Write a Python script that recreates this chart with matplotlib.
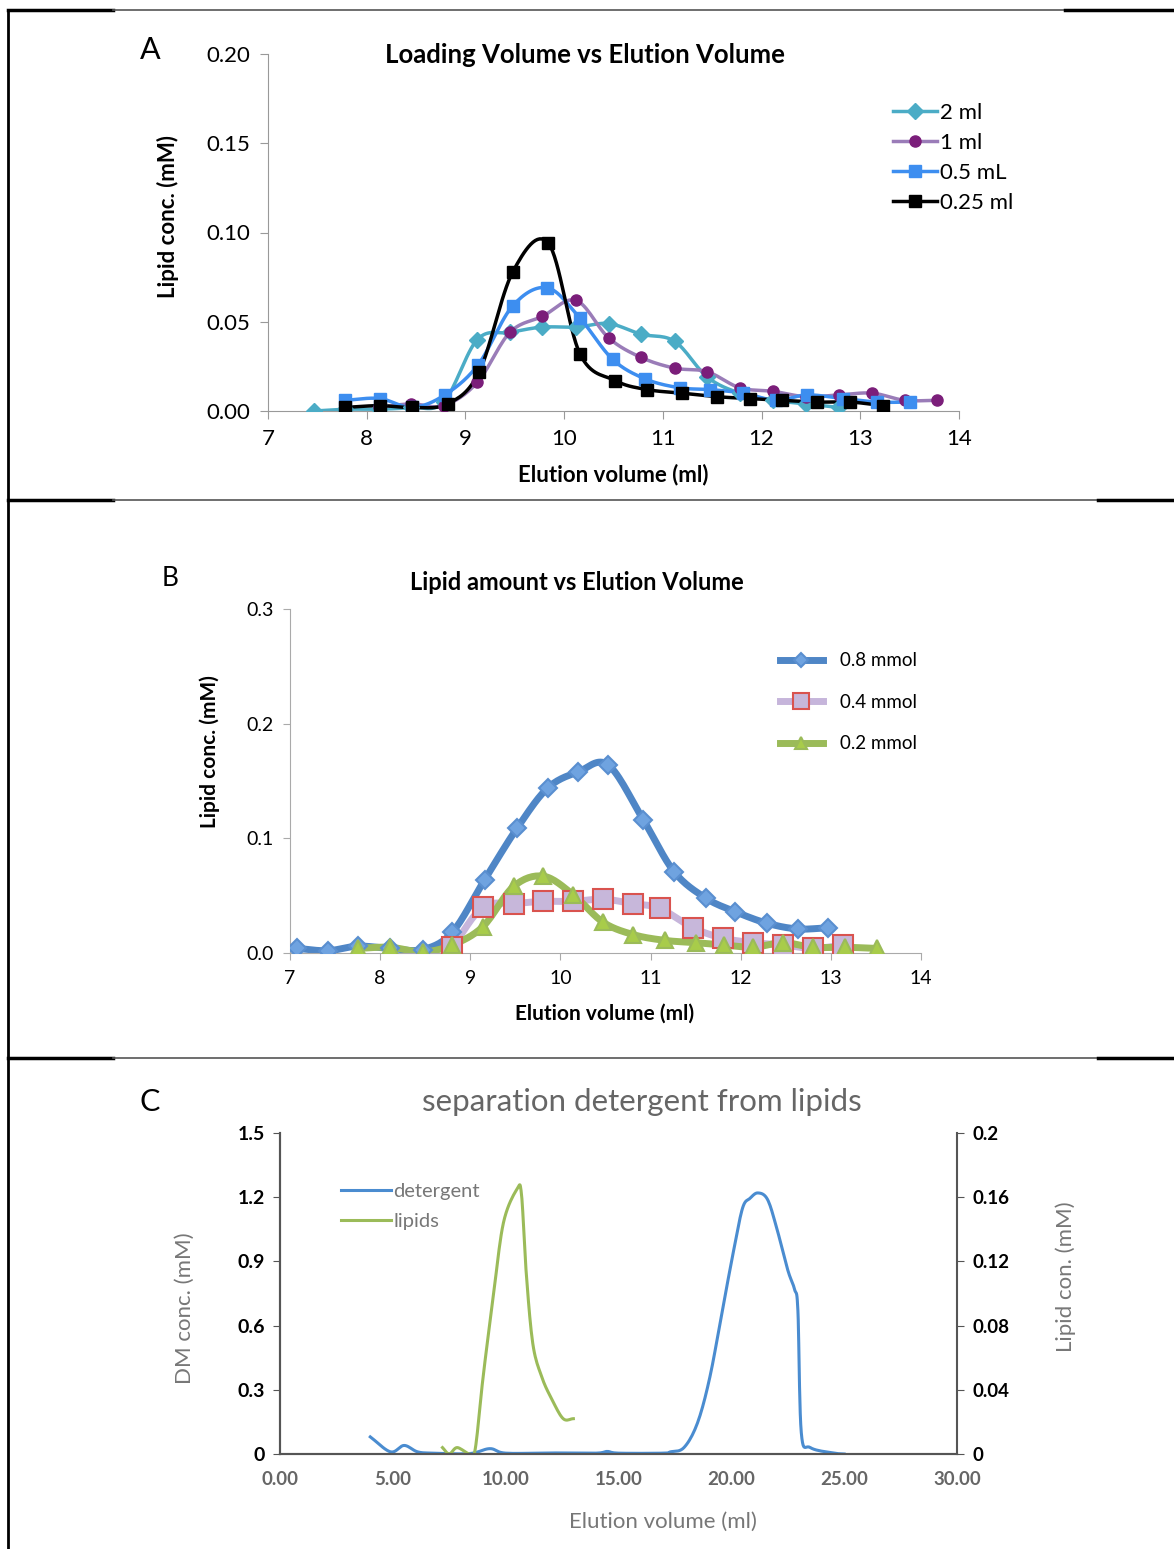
import numpy as np
import matplotlib
matplotlib.use('Agg')
from matplotlib import pyplot as plt
from matplotlib.lines import Line2D

# ---- panel A data: loading volume vs elution volume ----
a_2ml_x = [7.47, 7.78, 8.12, 8.45, 8.78, 9.12, 9.45, 9.78, 10.12, 10.45, 10.78, 11.12, 11.45, 11.78, 12.12, 12.45, 12.78]
a_2ml_y = [0.000, 0.001, 0.001, 0.002, 0.005, 0.040, 0.044, 0.047, 0.047, 0.049, 0.043, 0.039, 0.019, 0.010, 0.006, 0.004, 0.002]
a_1ml_x = [8.12, 8.45, 8.78, 9.12, 9.45, 9.78, 10.12, 10.45, 10.78, 11.12, 11.45, 11.78, 12.12, 12.45, 12.78, 13.12, 13.45, 13.78]
a_1ml_y = [0.002, 0.004, 0.003, 0.016, 0.044, 0.053, 0.062, 0.041, 0.030, 0.024, 0.022, 0.013, 0.011, 0.008, 0.009, 0.010, 0.006, 0.006]
a_05_x = [7.78, 8.13, 8.46, 8.79, 9.13, 9.48, 9.83, 10.16, 10.49, 10.82, 11.17, 11.48, 11.81, 12.15, 12.46, 12.82, 13.17, 13.50]
a_05_y = [0.006, 0.007, 0.002, 0.009, 0.026, 0.059, 0.069, 0.052, 0.029, 0.018, 0.013, 0.012, 0.010, 0.006, 0.009, 0.007, 0.005, 0.005]
a_025_x = [7.78, 8.13, 8.46, 8.82, 9.14, 9.48, 9.84, 10.16, 10.52, 10.84, 11.19, 11.55, 11.88, 12.21, 12.56, 12.90, 13.23]
a_025_y = [0.002, 0.003, 0.002, 0.004, 0.022, 0.078, 0.094, 0.032, 0.017, 0.012, 0.010, 0.008, 0.007, 0.006, 0.005, 0.005, 0.003]

# ---- panel B data: lipid amount vs elution volume ----
b_08_x = [7.08, 7.42, 7.75, 8.11, 8.47, 8.80, 9.16, 9.52, 9.86, 10.20, 10.53, 10.92, 11.26, 11.61, 11.94, 12.29, 12.63, 12.97]
b_08_y = [0.004, 0.002, 0.006, 0.004, 0.003, 0.018, 0.064, 0.109, 0.144, 0.158, 0.164, 0.116, 0.071, 0.048, 0.036, 0.026, 0.021, 0.022]
b_04_x = [8.80, 9.14, 9.48, 9.81, 10.14, 10.47, 10.80, 11.10, 11.47, 11.80, 12.14, 12.47, 12.80, 13.14]
b_04_y = [0.005, 0.040, 0.043, 0.045, 0.045, 0.047, 0.043, 0.039, 0.022, 0.013, 0.009, 0.007, 0.004, 0.007]
b_02_x = [7.75, 8.11, 8.47, 8.80, 9.14, 9.48, 9.81, 10.14, 10.47, 10.81, 11.16, 11.50, 11.81, 12.14, 12.47, 12.80, 13.16, 13.51]
b_02_y = [0.004, 0.005, 0.001, 0.007, 0.023, 0.058, 0.067, 0.051, 0.027, 0.016, 0.011, 0.009, 0.007, 0.005, 0.009, 0.005, 0.005, 0.004]

# ---- panel C data: detergent (left axis) and lipids (right axis) ----
det_x = [4.0, 4.9, 5.5, 6.1, 6.8, 8.4, 9.3, 10.0, 12.0, 14.0, 14.5, 15.0, 17.0, 17.3, 17.9, 18.5, 19.05, 19.6, 20.1, 20.5, 20.83, 21.18, 21.6, 22.0, 22.5, 22.8, 22.95, 23.1, 23.5, 24.5, 25.0]
det_y = [0.08, 0.01, 0.04, 0.01, 0.004, 0.002, 0.025, 0.004, 0.005, 0.004, 0.012, 0.004, 0.004, 0.01, 0.03, 0.145, 0.36, 0.67, 0.95, 1.15, 1.195, 1.22, 1.19, 1.06, 0.86, 0.77, 0.67, 0.10, 0.03, 0.005, 0.0]
lip_x = [7.2, 7.5, 7.85, 8.4, 8.65, 9.0, 9.45, 9.9, 10.5, 10.7, 10.9, 11.2, 11.6, 12.05, 12.55, 13.0]
lip_y = [0.004, 0.0, 0.004, 0.0, 0.003, 0.048, 0.098, 0.144, 0.165, 0.162, 0.115, 0.069, 0.048, 0.034, 0.022, 0.022]


def smooth(x, y, n=16):
    # catmull-rom path through the points, like excel's smoothed lines
    x = np.asarray(x, float)
    y = np.asarray(y, float)
    px = np.concatenate([[2 * x[0] - x[1]], x, [2 * x[-1] - x[-2]]])
    py = np.concatenate([[2 * y[0] - y[1]], y, [2 * y[-1] - y[-2]]])
    t = np.linspace(0, 1, n, endpoint=False)
    xs, ys = [], []
    for i in range(1, len(px) - 2):
        for p, out in ((px, xs), (py, ys)):
            p0, p1, p2, p3 = p[i - 1], p[i], p[i + 1], p[i + 2]
            out.extend(0.5 * (2 * p1 + (-p0 + p2) * t + (2 * p0 - 5 * p1 + 4 * p2 - p3) * t ** 2
                              + (-p0 + 3 * p1 - 3 * p2 + p3) * t ** 3))
    xs.append(x[-1])
    ys.append(y[-1])
    return np.array(xs), np.array(ys)


plt.rcParams['font.family'] = ['Lato', 'DejaVu Sans']

W, H = 1174, 1549
fig = plt.figure(figsize=(W / 100, H / 100), dpi=100)


def fx(px):
    return px / W


def fy(py):
    return 1 - py / H


# table-like borders
for yy, xr in ((10, 1065), (500, 1098), (1058, 1098)):
    fig.add_artist(Line2D([fx(8), fx(113)], [fy(yy), fy(yy)], color='black', lw=2.5, transform=fig.transFigure))
    fig.add_artist(Line2D([fx(113), fx(xr)], [fy(yy), fy(yy)], color='#555555', lw=1.2, transform=fig.transFigure))
    fig.add_artist(Line2D([fx(xr), fx(1174)], [fy(yy), fy(yy)], color='black', lw=2.5, transform=fig.transFigure))
fig.add_artist(Line2D([fx(8), fx(8)], [fy(10), fy(1549)], color='black', lw=2, transform=fig.transFigure))

# ================= panel A =================
axA = fig.add_axes([fx(268), fy(411), fx(959 - 268), (411 - 54) / H])
seriesA = [
    ('2 ml', a_2ml_x, a_2ml_y, '#4BACC6', '#4BACC6', 'D', 8),
    ('1 ml', a_1ml_x, a_1ml_y, '#9A7CB8', '#7B1E7A', 'o', 8),
    ('0.5 mL', a_05_x, a_05_y, '#3D8EF0', '#3D8EF0', 's', 8),
    ('0.25 ml', a_025_x, a_025_y, 'black', 'black', 's', 8),
]
handlesA = []
for lab, x, y, lc, mc, mk, ms in seriesA:
    sx, sy = smooth(x, y)
    axA.plot(sx, sy, color=lc, lw=2.5, zorder=2)
    axA.plot(x, y, ls='none', marker=mk, color=mc, ms=ms, zorder=3)
    handlesA.append(Line2D([], [], color=lc, lw=2.5, marker=mk, mfc=mc, mec=mc, ms=ms))
axA.set_xlim(7, 14)
axA.set_ylim(0, 0.2)
axA.set_xticks(range(7, 15))
axA.set_yticks([0, 0.05, 0.10, 0.15, 0.20])
axA.set_yticklabels(['0.00', '0.05', '0.10', '0.15', '0.20'])
for s in ('top', 'right'):
    axA.spines[s].set_visible(False)
for s in ('left', 'bottom'):
    axA.spines[s].set_color('#999999')
axA.tick_params(colors='#999999', labelcolor='black', labelsize=16, length=6, pad=7)
fig.text(fx(613), fy(475), 'Elution volume (ml)', fontsize=16, fontweight='bold', ha='center', va='center')
fig.text(fx(168), fy(216), 'Lipid conc. (mM)', fontsize=16, fontweight='bold', rotation=90,
         ha='center', va='center')
fig.text(fx(585), fy(55), 'Loading Volume vs Elution Volume', fontsize=18.5, fontweight='bold',
         ha='center', va='center')
fig.text(fx(150), fy(50), 'A', fontsize=22, ha='center', va='center')
fig.legend(handlesA, [s[0] for s in seriesA], loc='upper left', bbox_to_anchor=(fx(884), fy(94)),
           frameon=False, fontsize=16, handlelength=2.0, handletextpad=0.1, labelspacing=0.45,
           borderaxespad=0)

# ================= panel B =================
axB = fig.add_axes([fx(290), fy(953), fx(921 - 290), (953 - 609) / H])
seriesB = [
    ('0.8 mmol', b_08_x, b_08_y, '#4F86C6', '#6FA3E0', '#5A8FD0', 'D', 9),
    ('0.4 mmol', b_04_x, b_04_y, '#C6B5DB', '#C7B7DA', '#D9534F', 's', 14),
    ('0.2 mmol', b_02_x, b_02_y, '#9BBB59', '#A8CC4A', '#9BBB59', '^', 11),
]
handlesB = []
for lab, x, y, lc, mfc, mec, mk, ms in seriesB:
    sx, sy = smooth(x, y)
    axB.plot(sx, sy, color=lc, lw=5, zorder=2, solid_capstyle='round')
    axB.plot(x, y, ls='none', marker=mk, mfc=mfc, mec=mec, mew=1.5, ms=ms, zorder=3)
    handlesB.append(Line2D([], [], color=lc, lw=5, marker=mk, mfc=mfc, mec=mec, mew=1.5, ms=ms * 0.8))
axB.set_xlim(7, 14)
axB.set_ylim(0, 0.3)
axB.set_xticks(range(7, 15))
axB.set_yticks([0, 0.1, 0.2, 0.3])
axB.set_yticklabels(['0.0', '0.1', '0.2', '0.3'])
for s in ('top', 'right'):
    axB.spines[s].set_visible(False)
for s in ('left', 'bottom'):
    axB.spines[s].set_color('#aaaaaa')
axB.tick_params(colors='#aaaaaa', labelcolor='black', labelsize=14, length=5, pad=7)
fig.text(fx(605), fy(1014), 'Elution volume (ml)', fontsize=15, fontweight='bold', ha='center', va='center')
fig.text(fx(210), fy(752), 'Lipid conc. (mM)', fontsize=15, fontweight='bold', rotation=90,
         ha='center', va='center')
fig.text(fx(577), fy(583), 'Lipid amount vs Elution Volume', fontsize=17, fontweight='bold',
         ha='center', va='center')
fig.text(fx(170), fy(578), 'B', fontsize=19, ha='center', va='center')
fig.legend(handlesB, [s[0] for s in seriesB], loc='upper left', bbox_to_anchor=(fx(772), fy(645)),
           frameon=False, fontsize=13.5, handlelength=2.3, handletextpad=0.9, labelspacing=1.3,
           borderaxespad=0)

# ================= panel C =================
axC = fig.add_axes([fx(280), fy(1454), fx(957 - 280), (1454 - 1133) / H])
axC2 = axC.twinx()
sx, sy = smooth(det_x, det_y, 10)
lnD, = axC.plot(sx, sy, color='#4A8CD0', lw=2.2, label='detergent')
sx, sy = smooth(lip_x, lip_y, 10)
lnL, = axC2.plot(sx, sy, color='#9BBB59', lw=2.2, label='lipids')
axC.set_xlim(0, 30)
axC.set_ylim(0, 1.5)
axC2.set_ylim(0, 0.2)
axC.set_xticks([0, 5, 10, 15, 20, 25, 30])
axC.set_xticklabels(['0.00', '5.00', '10.00', '15.00', '20.00', '25.00', '30.00'])
axC.set_yticks([0, 0.3, 0.6, 0.9, 1.2, 1.5])
axC.set_yticklabels(['0', '0.3', '0.6', '0.9', '1.2', '1.5'])
axC2.set_yticks([0, 0.04, 0.08, 0.12, 0.16, 0.2])
axC2.set_yticklabels(['0', '0.04', '0.08', '0.12', '0.16', '0.2'])
for a in (axC, axC2):
    a.spines['top'].set_visible(False)
    for s in ('left', 'right', 'bottom'):
        a.spines[s].set_color('#555555')
        a.spines[s].set_linewidth(1.5)
axC.spines['right'].set_visible(False)
axC.tick_params(axis='x', length=0, pad=12, labelsize=13.5, labelcolor='#666666')
axC.tick_params(axis='y', length=5, color='#555555', labelsize=14, pad=6)
axC2.tick_params(axis='y', length=5, color='#555555', labelsize=13.5, pad=6)
for lbl in axC.get_xticklabels() + axC.get_yticklabels() + axC2.get_yticklabels():
    lbl.set_fontweight('bold')
fig.text(fx(663), fy(1522), 'Elution volume (ml)', fontsize=16, color='#777777', ha='center', va='center')
fig.text(fx(185), fy(1308), 'DM conc. (mM)', fontsize=16, color='#777777', rotation=90,
         ha='center', va='center')
fig.text(fx(1066), fy(1277), 'Lipid con. (mM)', fontsize=16, color='#777777', rotation=90,
         ha='center', va='center')
fig.text(fx(642), fy(1102), 'separation detergent from lipids', fontsize=22.5, color='#666666',
         ha='center', va='center')
fig.text(fx(150), fy(1102), 'C', fontsize=22, ha='center', va='center')
legC = fig.legend([lnD, lnL], ['detergent', 'lipids'], loc='upper left',
                  bbox_to_anchor=(fx(333), fy(1175)), frameon=False, fontsize=14.5,
                  handlelength=2.5, handletextpad=0.1, labelspacing=0.65, borderaxespad=0)
for t in legC.get_texts():
    t.set_color('#777777')

fig.savefig('out.png', dpi=100)
